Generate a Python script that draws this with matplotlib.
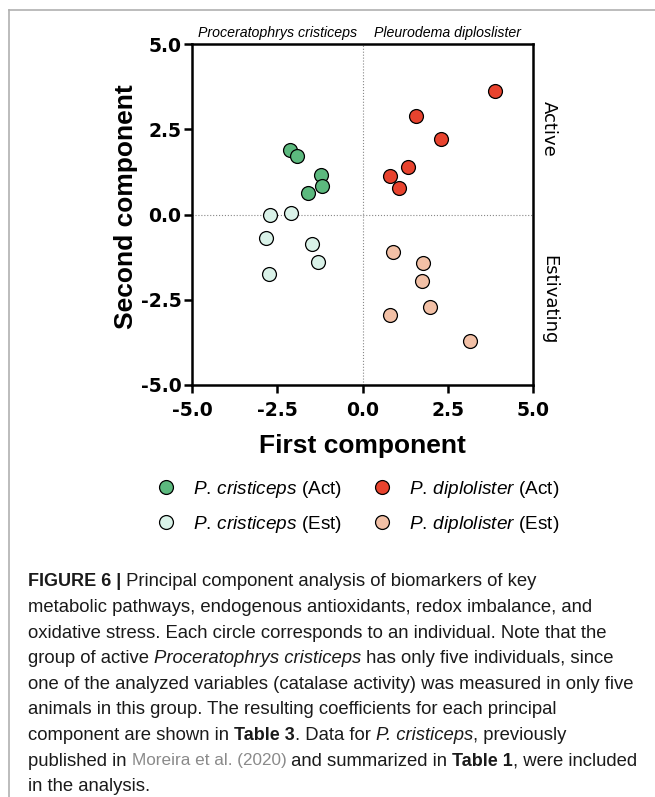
import matplotlib
matplotlib.use("Agg")
import matplotlib.pyplot as plt
from matplotlib.lines import Line2D
from matplotlib import font_manager

plt.rcParams['axes.unicode_minus'] = False
plt.rcParams['mathtext.fontset'] = 'custom'
plt.rcParams['mathtext.rm'] = 'Liberation Sans'
plt.rcParams['mathtext.it'] = 'Liberation Sans:italic'
plt.rcParams['mathtext.bf'] = 'Liberation Sans:bold'

# PCA scores
pc_act_x = [-2.13, -1.91, -1.21, -1.19, -1.59]
pc_act_y = [1.89, 1.72, 1.16, 0.84, 0.64]
pc_est_x = [-2.70, -2.11, -2.82, -1.47, -1.31, -2.74]
pc_est_y = [0.00, 0.04, -0.68, -0.87, -1.38, -1.74]
pd_act_x = [3.88, 1.57, 2.29, 1.33, 0.82, 1.07]
pd_act_y = [3.62, 2.88, 2.21, 1.39, 1.14, 0.79]
pd_est_x = [0.88, 1.78, 1.75, 1.99, 0.80, 3.14]
pd_est_y = [-1.11, -1.43, -1.94, -2.70, -2.96, -3.71]

ticks = [-5.0, -2.5, 0.0, 2.5, 5.0]
tick_labels = ['-5.0', '-2.5', '0.0', '2.5', '5.0']

groups = [
    (pc_act_x, pc_act_y, '#5cb97e', r'$\mathit{P.\,cristiceps}$ (Act)'),
    (pc_est_x, pc_est_y, '#d9f2e8', r'$\mathit{P.\,cristiceps}$ (Est)'),
    (pd_act_x, pd_act_y, '#e8432e', r'$\mathit{P.\,diplolister}$ (Act)'),
    (pd_est_x, pd_est_y, '#f2c0a6', r'$\mathit{P.\,diplolister}$ (Est)'),
]

W, H = 655, 797
fig = plt.figure(figsize=(W / 100, H / 100), dpi=100)
ax = fig.add_axes([192 / W, (H - 385) / H, 341 / W, 341 / H])

ax.axhline(0, color='#888888', lw=0.8, ls=':', zorder=1)
ax.axvline(0, color='#888888', lw=0.8, ls=':', zorder=1)

handles = []
for xs, ys, col, lab in groups:
    ax.scatter(xs, ys, s=100, c=col, edgecolors='black', linewidths=0.9, zorder=3)
    handles.append(Line2D([], [], ls='none', marker='o', markersize=10,
                          markerfacecolor=col, markeredgecolor='black',
                          markeredgewidth=0.9, label=lab))

ax.set_xlim(-5, 5)
ax.set_ylim(-5, 5)
ax.set_xticks(ticks)
ax.set_yticks(ticks)
ax.set_xticklabels(tick_labels)
ax.set_yticklabels(tick_labels)
for lbl in ax.get_xticklabels() + ax.get_yticklabels():
    lbl.set_fontfamily('DejaVu Sans')
    lbl.set_fontweight('bold')
    lbl.set_fontsize(13.5)
ax.tick_params(axis='x', length=5.5, width=1.8, pad=6)
ax.tick_params(axis='y', length=5.5, width=1.8, pad=2)
for sp in ax.spines.values():
    sp.set_linewidth(1.8)

ax.set_xlabel('First component', fontfamily='Liberation Sans', fontweight='bold',
              fontsize=19, labelpad=10)
ax.set_ylabel('Second component', fontfamily='Liberation Sans', fontweight='bold',
              fontsize=19)
ax.yaxis.set_label_coords(-0.158, 0.522)

ax.text(0.25, 1.012, 'Proceratophrys cristiceps', transform=ax.transAxes,
        ha='center', va='bottom', fontfamily='Liberation Sans', style='italic', fontsize=10.2)
ax.text(0.75, 1.012, 'Pleurodema diploslister', transform=ax.transAxes,
        ha='center', va='bottom', fontfamily='Liberation Sans', style='italic', fontsize=10.2)
ax.text(1.047, 0.75, 'Active', transform=ax.transAxes, rotation=270,
        ha='center', va='center', fontfamily='DejaVu Sans', fontsize=13)
ax.text(1.047, 0.25, 'Estivating', transform=ax.transAxes, rotation=270,
        ha='center', va='center', fontfamily='DejaVu Sans', fontsize=13)

leg = fig.legend(handles=handles, ncol=2, loc='center',
                 bbox_to_anchor=(357 / W, 1 - 507 / H), frameon=False,
                 prop={'family': 'Liberation Sans', 'size': 13.7},
                 handletextpad=0.8, columnspacing=1.5, labelspacing=0.75,
                 handlelength=1.2)

# frame lines of the page
fig.add_artist(Line2D([9 / W, 1], [1 - 10 / H, 1 - 10 / H], color='#b0b0b0', lw=1.2))
fig.add_artist(Line2D([9 / W, 9 / W], [0, 1 - 10 / H], color='#b0b0b0', lw=1.2))

# caption
renderer = fig.canvas.get_renderer()
narrow = 'Liberation Sans Narrow' if any(
    f.name == 'Liberation Sans Narrow' for f in font_manager.fontManager.ttflist) else 'Liberation Sans'
cap_size = 13.3
styles = {
    'n': dict(fontfamily='Liberation Sans', fontsize=cap_size, color='#1a1a1a'),
    'b': dict(fontfamily='Liberation Sans', fontsize=cap_size - 0.3, fontweight='bold', color='#1a1a1a'),
    'i': dict(fontfamily='Liberation Sans', fontsize=cap_size, style='italic', color='#1a1a1a'),
    'g': dict(fontfamily=narrow, fontsize=cap_size - 1, color='#8a8a8a'),
}


def run_width(s, st):
    a = fig.text(0, 0, '|' + s + '|', **styles[st])
    b = fig.text(0, 0, '||', **styles[st])
    w = a.get_window_extent(renderer).width - b.get_window_extent(renderer).width
    a.remove()
    b.remove()
    return w


caption = [
    [('FIGURE 6 |', 'b'), (' Principal component analysis of biomarkers of key', 'n')],
    [('metabolic pathways, endogenous antioxidants, redox imbalance, and', 'n')],
    [('oxidative stress. Each circle corresponds to an individual. Note that the', 'n')],
    [('group of active ', 'n'), ('Proceratophrys cristiceps', 'i'),
     (' has only five individuals, since', 'n')],
    [('one of the analyzed variables (catalase activity) was measured in only five', 'n')],
    [('animals in this group. The resulting coefficients for each principal', 'n')],
    [('component are shown in ', 'n'), ('Table 3', 'b'), ('. Data for ', 'n'),
     ('P. cristiceps', 'i'), (', previously', 'n')],
    [('published in ', 'n'), ('Moreira et al. (2020)', 'g'), (' and summarized in ', 'n'),
     ('Table 1', 'b'), (', were included', 'n')],
    [('in the analysis.', 'n')],
]

y0 = 580
for k, line in enumerate(caption):
    x = 28
    y = y0 + k * 25.6
    for s, st in line:
        fig.text(x / W, 1 - y / H, s, va='center_baseline', ha='left', **styles[st])
        x += run_width(s, st)

fig.savefig('out.png', dpi=100)
